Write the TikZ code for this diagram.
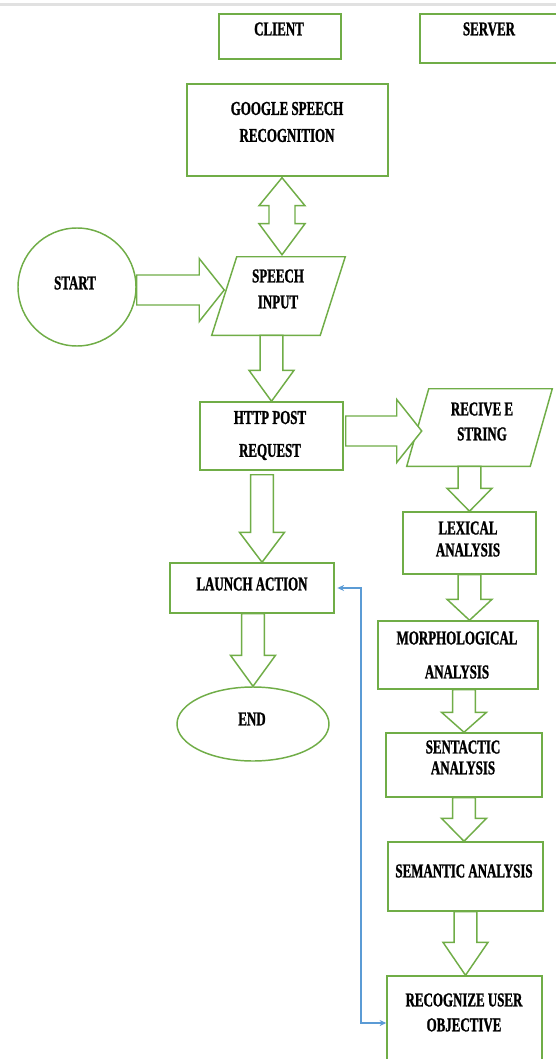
\documentclass[tikz,border=0pt]{standalone}
\usepackage{fontspec}
\newfontfamily\condfont[FakeStretch=0.66, BoldFeatures={FakeBold=1.2}]{Liberation Serif}
\usetikzlibrary{calc,shapes.geometric,arrows.meta}
\definecolor{gline}{RGB}{112,173,71}
\definecolor{bline}{RGB}{91,155,213}
\definecolor{topgray}{RGB}{225,225,225}
\tikzset{
  gbox/.style={draw=gline, line width=1.1pt, fill=white, rectangle, inner sep=0pt},
  gframe/.style={rectangle, inner sep=0pt},
  gline/.style={draw=gline, line width=1.1pt, fill=white, line join=miter},
  blk/.style={draw=gline, line width=1.1pt, fill=white, line join=miter},
  lbl/.style={font=\condfont\bfseries\fontsize{14.7}{17.6}\selectfont, align=center, inner sep=0pt, text=black},
  bluel/.style={draw=bline, line width=1.1pt},
}
\newcommand\blkdown[3]{%
  \path[blk] let \p1=(#1), \p2=(#2) in
    ({\x1-8.6pt},\y1) -- ({\x1-8.6pt},{\y2+#3}) -- ({\x1-16.9pt},{\y2+#3}) -- (\x1,\y2)
    -- ({\x1+16.9pt},{\y2+#3}) -- ({\x1+8.6pt},{\y2+#3}) -- ({\x1+8.6pt},\y1) -- cycle;}
\newcommand\blkright[3]{%
  \path[blk] let \p1=(#1), \p2=(#2) in
    (\x1,{\y1+11.25pt}) -- ({\x2-#3},{\y1+11.25pt}) -- ({\x2-#3},{\y1+23.6pt}) -- (\x2,\y1)
    -- ({\x2-#3},{\y1-23.6pt}) -- ({\x2-#3},{\y1-11.25pt}) -- (\x1,{\y1-11.25pt}) -- cycle;}
\newcommand\blkdouble[2]{%
  \path[blk] let \p1=(#1), \p2=(#2) in
    (\x1,\y1) -- ({\x1+17.25pt},{\y1-21pt}) -- ({\x1+9.75pt},{\y1-21pt})
    -- ({\x1+9.75pt},{\y2+23.25pt}) -- ({\x1+17.25pt},{\y2+23.25pt}) -- (\x1,\y2)
    -- ({\x1-17.25pt},{\y2+23.25pt}) -- ({\x1-9.75pt},{\y2+23.25pt})
    -- ({\x1-9.75pt},{\y1-21pt}) -- ({\x1-17.25pt},{\y1-21pt}) -- cycle;}
\newcommand\paraoutline[2]{% node name, half slant offset
  \path[gline] ([xshift=#2]#1.north west) -- ([xshift=#2]#1.north east)
    -- ([xshift=-#2]#1.south east) -- ([xshift=-#2]#1.south west) -- cycle;}
\begin{document}
\begin{tikzpicture}[x=0.75pt,y=-0.75pt]
\clip (0,0) rectangle (556,1059);
\fill[white] (0,0) rectangle (556,1059);
\draw[topgray, line width=2.2pt] (0,4.5) -- (556,4.5);

% boxes
\node[gbox, minimum width=91.5pt, minimum height=33.75pt] (client) at (280,36.5) {};
\node[gbox, minimum width=112.5pt, minimum height=36.75pt] (server) at (495,38.5) {};
\node[gbox, minimum width=150.75pt, minimum height=69pt] (google) at (287.5,130) {};
\node[draw=gline, line width=1.1pt, fill=white, circle, minimum size=88.5pt, inner sep=0pt] (start) at (77,287) {};
\node[gframe, minimum width=81pt, minimum height=58.5pt] (speech) at (278.5,296) {};
\paraoutline{speech}{9.375pt}
\node[gbox, minimum width=107.25pt, minimum height=51pt] (http) at (271.5,436) {};
\node[gframe, minimum width=92.25pt, minimum height=57.75pt] (recive) at (479.5,427.5) {};
\paraoutline{recive}{8.25pt}
\node[gbox, minimum width=99.75pt, minimum height=46.5pt] (lexical) at (469.5,543) {};
\node[gbox, minimum width=123pt, minimum height=37.5pt] (launch) at (252,588) {};
\node[gbox, minimum width=120pt, minimum height=51pt] (morph) at (458,655) {};
\node[draw=gline, line width=1.1pt, fill=white, ellipse, minimum width=114pt, minimum height=55.5pt, inner sep=0pt] (end) at (253,724) {};
\node[gbox, minimum width=117pt, minimum height=48pt] (sent) at (464,765) {};
\node[gbox, minimum width=116.25pt, minimum height=51.75pt] (semantic) at (465.5,876.5) {};
\node[gbox, minimum width=116.25pt, minimum height=70.5pt] (recog) at (464.5,1023) {};

% texts
\node[lbl] (clientT) at (279,29) {CLIENT};
\node[lbl] (serverT) at (489,29) {SERVER};
\node[lbl] (googleT) at (287,122) {GOOGLE SPEECH\\[2.6pt]RECOGNITION};
\node[lbl] (startT) at (75,283) {START};
\node[lbl] (speechT) at (278,289) {SPEECH\\[1.9pt]INPUT};
\node[lbl] (httpT) at (270,435.5) {HTTP POST\\[7.1pt]REQUEST};
\node[lbl] (reciveT) at (482,421.5) {RECIVE E\\[1.1pt]STRING};
\node[lbl] (lexicalT) at (468,539) {LEXICAL\\[-1.1pt]ANALYSIS};
\node[lbl] (launchT) at (252,584) {LAUNCH ACTION};
\node[lbl] (morphT) at (457,655) {MORPHOLOGICAL\\[7.9pt]ANALYSIS};
\node[lbl] (endT) at (252,719) {END};
\node[lbl] (sentT) at (463,757.5) {SENTACTIC\\[-1.9pt]ANALYSIS};
\node[lbl] (semanticT) at (464,871) {SEMANTIC ANALYSIS};
\node[lbl] (recogT) at (464,1012.5) {RECOGNIZE USER\\[1.1pt]OBJECTIVE};

% block arrows
\blkdouble{$(google.south -| speech.north)+(3.5,1)$}{$(speech.north)+(3.5,-2)$}
\blkright{$(start.east)+(0,3)$}{speech.west}{18.75pt}
\blkdown{speech.south -| http.north}{http.north}{23.25pt}
\blkright{$(http.east)+(2,-5)$}{$(recive.west)+(4,0)$}{18.75pt}
\blkdown{recive.south -| lexical.north}{lexical.north}{17.25pt}
\blkdown{lexical.south}{morph.north}{15.75pt}
\blkdown{morph.south -| sent.north}{sent.north}{15pt}
\blkdown{sent.south}{semantic.north}{17.25pt}
\blkdown{semantic.south}{recog.north}{24.75pt}
\blkdown{$(http.south)+(-9.5,4)$}{launch.north}{22.5pt}
\blkdown{launch.south -| end.north}{end.north}{23.25pt}

% blue connector
\draw[bluel, {Stealth[length=5pt,width=4.5pt]}-{Stealth[length=5pt,width=4.5pt]}]
  ([xshift=2pt]launch.east) -- ++(23.5,0) |- (recog.west);
\end{tikzpicture}
\end{document}
